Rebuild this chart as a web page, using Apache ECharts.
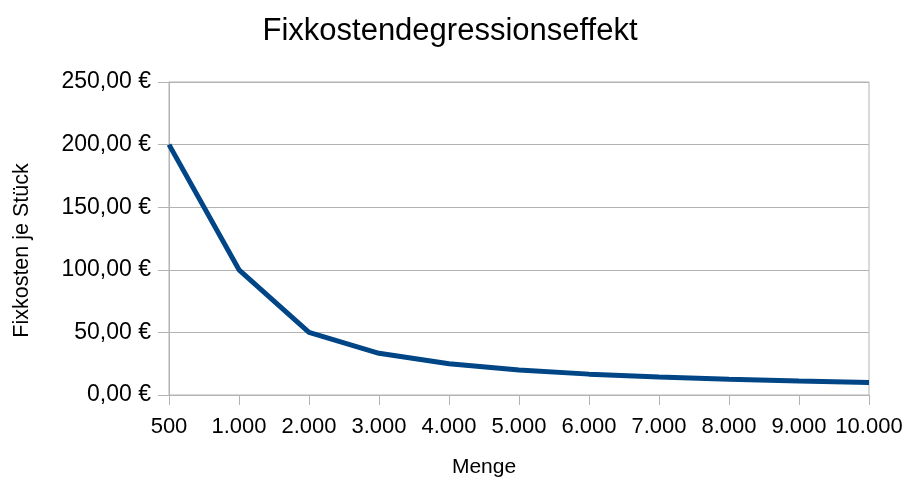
<!DOCTYPE html>
<html><head><meta charset="utf-8">
<script src="https://cdn.jsdelivr.net/npm/echarts@6/dist/echarts.min.js"></script>
<style>html,body{margin:0;padding:0;background:#fff}#c{width:911px;height:482px}</style>
</head><body><div id="c"></div>
<script>
const categories = ['500','1.000','2.000','3.000','4.000','5.000','6.000','7.000','8.000','9.000','10.000'];
const fixkosten = [200, 100, 50, 33.33, 25, 20, 16.67, 14.29, 12.5, 11.11, 10];
const chart = echarts.init(document.getElementById('c'));
const font = 'Liberation Sans, Arial, sans-serif';
chart.setOption({
  animation: false,
  title: { text: 'Fixkostendegressionseffekt', left: 445, top: 11, textAlign: 'center',
    textStyle: { fontFamily: font, fontSize: 31, fontWeight: 'normal', color: '#000' } },
  grid: { left: 169, right: 42, top: 82, bottom: 87, show: true, borderColor: '#b3b3b3', borderWidth: 1,
    containLabel: false, outerBoundsMode: 'none' },
  xAxis: { type: 'category', data: categories, boundaryGap: false,
    name: 'Menge', nameLocation: 'middle', nameGap: 62,
    nameTextStyle: { fontFamily: font, fontSize: 21, color: '#000', padding: [0, 70, 0, 0] },
    axisLine: { lineStyle: { color: '#b3b3b3' } },
    axisTick: { show: true, length: 10, lineStyle: { color: '#b3b3b3' } },
    axisLabel: { fontFamily: font, fontSize: 22, color: '#000', margin: 21, interval: 0 },
    splitLine: { show: false } },
  yAxis: { type: 'value', min: 0, max: 250, interval: 50,
    name: 'Fixkosten je Stück', nameLocation: 'middle', nameGap: 136, nameRotate: 90,
    nameTextStyle: { fontFamily: font, fontSize: 21.5, color: '#000', padding: [0, 24, 0, 0] },
    axisLine: { show: true, lineStyle: { color: '#b3b3b3' } },
    axisTick: { show: true, length: 11, lineStyle: { color: '#b3b3b3' } },
    axisLabel: { fontFamily: font, fontSize: 23, color: '#000', margin: 18,
      formatter: v => v.toFixed(2).replace('.', ',') + ' €' },
    splitLine: { lineStyle: { color: '#b3b3b3' } } },
  series: [{ type: 'line', data: fixkosten, symbol: 'none',
    lineStyle: { color: '#004586', width: 5 } }]
});
</script></body></html>
